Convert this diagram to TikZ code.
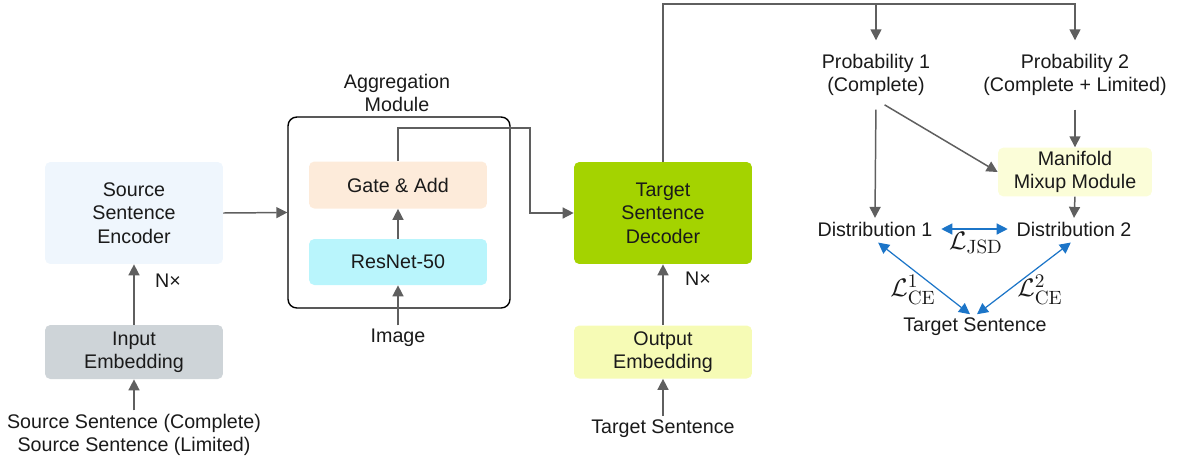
\documentclass[tikz,border=0pt]{standalone}
\usepackage{amsmath}
\usepackage[no-math]{fontspec}
\setmainfont{Liberation Sans}
\usepackage{tikz}
\usetikzlibrary{arrows.meta,calc}
\definecolor{cLine}{HTML}{5F5F5F}
\definecolor{cBlue}{HTML}{1C75C8}
\definecolor{cText}{HTML}{1A1A1A}
\definecolor{cEnc}{HTML}{EFF6FD}
\definecolor{cInEmb}{HTML}{CED4D8}
\definecolor{cGate}{HTML}{FDEBDA}
\definecolor{cRes}{HTML}{B9F5FC}
\definecolor{cDec}{HTML}{A4D300}
\definecolor{cOutEmb}{HTML}{F6FBB5}
\definecolor{cMix}{HTML}{FBFDD8}
\tikzset{
  txt/.style={font=\fontsize{11.2}{13.3}\selectfont, text=cText, align=center, inner sep=2pt},
  blk/.style={txt, draw=none, rounded corners=3pt, minimum width=3.56cm},
  aggbox/.style={draw=black, rounded corners=5pt, line width=0.8pt, minimum width=4.44cm, minimum height=3.82cm},
  arr/.style={draw=cLine, line width=0.85pt, -{Triangle[length=2.2mm,width=2.2mm]}},
  barr/.style={draw=cBlue, line width=0.7pt, {Triangle[length=2.2mm,width=2.2mm]}-{Triangle[length=2.2mm,width=2.2mm]}},
  loss/.style={font=\fontsize{15}{17}\selectfont, text=cText, inner sep=0pt}
}

\begin{document}
\begin{tikzpicture}[x=0.02cm, y=-0.02cm]
\useasboundingbox (0,0) rectangle (1178,461);
% encoder side
\node[blk, fill=cEnc, minimum height=2.04cm] (enc) at (134,213) {Source\\Sentence\\Encoder};
\node[blk, fill=cInEmb, minimum height=1.08cm] (inemb) at (134,352) {Input\\Embedding};
\node[txt] (src) at (134,435) {Source Sentence (Complete)\\Source Sentence (Limited)};
\node[txt] (nenc) at (168,281) {N×};
\draw[arr] (src) -- (inemb);
\draw[arr] (inemb) -- (enc);
% aggregation module
\node[aggbox] (agg) at (399,212.5) {};
\node[txt] (agglbl) at (397,93) {Aggregation\\Module};
\node[blk, fill=cGate, minimum height=0.94cm] (gate) at (398,185) {Gate \& Add};
\node[blk, fill=cRes, minimum height=0.92cm] (res) at (398,262) {ResNet-50};
\node[txt] (img) at (398,338) {Image};
\draw[arr] (img) -- (res);
\draw[arr] (res) -- (gate);
\draw[arr] (enc.east) -- (agg.west);
% decoder side
\node[blk, fill=cDec, minimum height=2.04cm] (dec) at (663,213) {Target\\Sentence\\Decoder};
\node[blk, fill=cOutEmb, minimum height=1.06cm] (outemb) at (663,352) {Output\\Embedding};
\node[txt] (tgt) at (663,429) {Target Sentence};
\node[txt] (ndec) at (698,279) {N×};
\draw[arr] (tgt) -- (outemb);
\draw[arr] (outemb) -- (dec);
\coordinate (gbend) at (530,128);
\draw[arr] (gate.north) |- (gbend) |- (dec.west);
% probabilities
\node[txt] (prob1) at (876,75) {Probability 1\\(Complete)};
\node[txt] (prob2) at (1075,75) {Probability 2\\(Complete + Limited)};
\coordinate (topL) at (876,4);
\coordinate (topR) at (1075,4);
\draw[arr, shorten >=0.2cm] (dec.north) |- (topR) -- (prob2.north);
\draw[arr, shorten >=0.2cm] (topL) -- (prob1.north);
\node[blk, fill=cMix, minimum width=3.08cm, minimum height=0.94cm] (mix) at (1075,172) {Manifold\\Mixup Module};
\node[txt] (dist1) at (875,229) {Distribution 1};
\node[txt] (dist2) at (1074,229) {Distribution 2};
\node[txt] (tgtR) at (975,327) {Target Sentence};
\draw[arr, shorten <=0.2cm] (prob1.south) -- (dist1.north);
\draw[arr, shorten <=0.2cm] (prob1.south) -- (mix.west);
\draw[arr, shorten <=0.2cm] (prob2.south) -- (mix.north);
\draw[arr] (mix.south) -- (dist2.north);
% losses
\draw[barr, shorten <=0.1cm, shorten >=0.1cm] (dist1.east) -- (dist2.west);
\draw[barr, shorten <=0.08cm] (dist1.south) -- ([xshift=-0.1cm]tgtR.north);
\draw[barr, shorten <=0.08cm] (dist2.south) -- ([xshift=0.04cm]tgtR.north);
\node[loss] (ljsd) at (976,243) {$\mathcal{L}_{\mathrm{JSD}}$};
\node[loss] (lce1) at (913,290) {$\mathcal{L}_{\mathrm{CE}}^{1}$};
\node[loss] (lce2) at (1040,290) {$\mathcal{L}_{\mathrm{CE}}^{2}$};
\end{tikzpicture}
\end{document}
